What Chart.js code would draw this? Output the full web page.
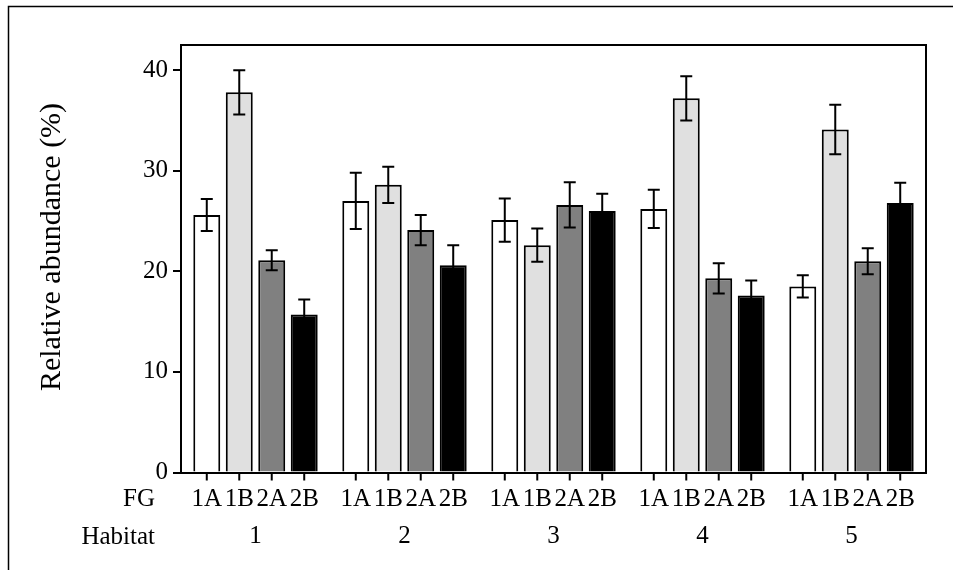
<!DOCTYPE html>
<html>
<head>
<meta charset="utf-8">
<script src="https://cdn.jsdelivr.net/npm/chart.js@4"></script>
<style>
  html, body { margin: 0; padding: 0; background: #fff; }
  #wrap { width: 953px; height: 570px; position: relative; }
</style>
</head>
<body>
<div id="wrap"><canvas id="chart"></canvas></div>
<script>
const habitats = ['1', '2', '3', '4', '5'];
const fgLabels = ['1A', '1B', '2A', '2B'];
const fg1A = [25.6, 27.0, 25.1, 26.2, 18.5];
const fg1B = [37.8, 28.6, 22.6, 37.2, 34.1];
const fg2A = [21.1, 24.1, 26.6, 19.3, 21.0];
const fg2B = [15.7, 20.6, 26.0, 17.6, 26.8];
const err1A = [1.6, 2.8, 2.15, 1.9, 1.1];
const err1B = [2.2, 1.8, 1.65, 2.2, 2.45];
const err2A = [1.0, 1.5, 2.25, 1.5, 1.3];
const err2B = [1.5, 2.0, 1.7, 1.5, 2.0];
const yTicks = [0, 10, 20, 30, 40];

const fills = ['#ffffff', '#e0e0e0', '#808080', '#000000'];
const values = [fg1A, fg1B, fg2A, fg2B];
const errors = [err1A, err1B, err2A, err2B];
const FONT = '"Liberation Serif", "Times New Roman", serif';

// error bars, FG tick labels, frame, axis title
const extras = {
  id: 'extras',
  beforeDraw(chart) {
    const ctx = chart.ctx;
    ctx.save();
    ctx.fillStyle = '#fff';
    ctx.fillRect(0, 0, chart.width, chart.height);
    ctx.restore();
  },
  afterDatasetsDraw(chart) {
    const ctx = chart.ctx;
    const y = chart.scales.y;
    const area = chart.chartArea;
    ctx.save();
    ctx.strokeStyle = '#000';
    ctx.lineWidth = 2;
    values.forEach((vals, i) => {
      const meta = chart.getDatasetMeta(i);
      meta.data.forEach((bar, j) => {
        const top = y.getPixelForValue(vals[j] + errors[i][j]);
        const bot = y.getPixelForValue(vals[j] - errors[i][j]);
        ctx.beginPath();
        ctx.moveTo(bar.x, top); ctx.lineTo(bar.x, bot);
        ctx.moveTo(bar.x - 6, top); ctx.lineTo(bar.x + 6, top);
        ctx.moveTo(bar.x - 6, bot); ctx.lineTo(bar.x + 6, bot);
        ctx.stroke();
        // x tick under each bar
        ctx.beginPath();
        ctx.moveTo(bar.x, area.bottom); ctx.lineTo(bar.x, area.bottom + 8);
        ctx.stroke();
      });
    });
    // top and right frame of plot
    ctx.beginPath();
    ctx.moveTo(area.left, area.top);
    ctx.lineTo(area.right, area.top);
    ctx.lineTo(area.right, area.bottom);
    ctx.stroke();

    ctx.fillStyle = '#000';
    ctx.font = '25px ' + FONT;
    ctx.textBaseline = 'middle';
    ctx.textAlign = 'center';
    values.forEach((vals, i) => {
      chart.getDatasetMeta(i).data.forEach(bar => {
        ctx.fillText(fgLabels[i], bar.x, area.bottom + 27);
      });
    });
    ctx.textAlign = 'right';
    ctx.fillText('FG', 155, area.bottom + 27);
    ctx.fillText('Habitat', 155, area.bottom + 65);

    // y axis title
    ctx.save();
    ctx.translate(52, 247);
    ctx.rotate(-Math.PI / 2);
    ctx.textAlign = 'center';
    ctx.font = '30px ' + FONT;
    ctx.fillText('Relative abundance (%)', 0, 0);
    ctx.restore();

    // outer frame
    ctx.lineWidth = 1.5;
    ctx.strokeRect(8.5, 6.5, chart.width + 20, chart.height + 20);
    ctx.restore();
  }
};

new Chart(document.getElementById('chart'), {
  type: 'bar',
  data: {
    labels: habitats,
    datasets: values.map((vals, i) => ({
      label: fgLabels[i],
      data: vals,
      backgroundColor: fills[i],
      borderColor: '#000',
      borderWidth: 2,
      categoryPercentage: 0.872,
      barPercentage: 0.83
    }))
  },
  options: {
    responsive: true,
    maintainAspectRatio: false,
    animation: false,
    devicePixelRatio: 1,
    layout: { padding: { left: 0, top: 45, right: 27, bottom: 0 } },
    plugins: { legend: { display: false }, tooltip: { enabled: false } },
    scales: {
      x: {
        grid: { display: false, drawTicks: false },
        border: { color: '#000', width: 2 },
        ticks: { color: '#000', font: { family: FONT, size: 25 }, padding: 49, maxRotation: 0 },
        afterFit(scale) { scale.height = 97.5; }
      },
      y: {
        min: 0,
        max: 42.5,
        grid: { drawOnChartArea: false, tickLength: 8, color: '#000', lineWidth: 2 },
        border: { color: '#000', width: 2 },
        ticks: { color: '#000', font: { family: FONT, size: 25 }, padding: 5, stepSize: 10 },
        afterBuildTicks(scale) {
          scale.ticks = yTicks.map(v => ({ value: v }));
        },
        afterFit(scale) { scale.width = 181; }
      }
    }
  },
  plugins: [extras]
});
</script>
</body>
</html>
